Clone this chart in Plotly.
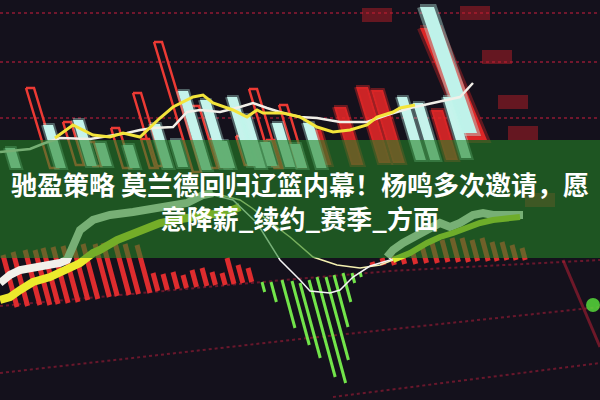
import plotly.graph_objects as go

# ---------------- data ----------------
# (vertical axis is reversed: level 0 is the top edge of the frame)

# upper panel candles: x at the top end, top level, bottom level
red_x   = [30, 67, 115, 137, 158, 195, 253, 283, 90, 145, 215, 240, 270]
red_top = [88, 122, 128, 93, 42, 106, 89, 105, 142, 139, 138, 136, 140]
red_bot = [168, 165, 168, 166, 172, 168, 166, 167, 166, 168, 167, 165, 168]

cyan_x   = [48, 78, 155, 183, 205, 232, 245, 277, 308, 402, 418, 448, 10, 100, 128, 175, 222, 265, 295]
cyan_top = [125, 120, 124, 91, 100, 97, 115, 123, 123, 97, 103, 97, 148, 143, 145, 140, 141, 142, 144]
cyan_bot = [168, 166, 168, 170, 168, 166, 168, 167, 168, 160, 160, 158, 168, 166, 168, 167, 168, 166, 168]

fill_red_x   = [315, 340, 362, 377, 437]
fill_red_top = [130, 107, 87, 90, 110]
fill_red_bot = [165, 165, 163, 163, 160]

# the two tall slanted candles on the right
big_x_top = [430, 427]
big_x_bot = [477, 470]
big_top   = [28, 7]
big_bot   = [140, 133]

# MACD histogram: red bars (top level, zero-line level)
macd_red_x    = [3, 13, 25, 35, 43, 53, 63, 73, 83, 95, 103, 115, 125, 137, 153, 163, 173, 183, 192,
                 202, 212, 222, 227, 238, 248, 372, 382, 392, 402, 412, 422, 432, 442, 452, 462, 472,
                 482, 492, 502, 512, 522]
macd_red_top  = [255, 252, 250, 250, 248, 247, 246, 245, 244, 244, 243, 243, 244, 245, 273, 274, 272,
                 275, 270, 268, 272, 273, 258, 265, 268, 262, 258, 256, 254, 250, 246, 243, 240, 238,
                 238, 240, 238, 242, 242, 245, 248]
macd_red_base = [307, 306, 305, 305, 304, 303, 302, 300, 299, 297, 296, 295, 294, 293, 291, 290, 289,
                 288, 287, 286, 285, 285, 284, 283, 282, 266, 265, 265, 264, 264, 263, 263, 262, 262,
                 262, 261, 261, 261, 260, 260, 260]
# MACD histogram: green bars (zero-line level, bottom level)
macd_green_x    = [262, 271, 282, 292, 300, 309, 317, 326, 334, 343, 352, 360]
macd_green_base = [282, 282, 280, 281, 283, 280, 277, 277, 275, 273, 273, 272]
macd_green_low  = [292, 302, 328, 345, 358, 377, 383, 360, 327, 302, 283, 277]

# moving averages
top_yellow_x = [55, 73, 83, 93, 110, 123, 140, 147, 160, 173, 193, 203, 213, 233, 247, 257, 263, 283,
                300, 317, 333, 350, 367, 377, 393, 400, 415]
top_yellow_y = [138, 125, 130, 135, 137, 133, 137, 130, 118, 107, 97, 95, 103, 110, 117, 110, 113, 113,
                117, 127, 132, 130, 125, 117, 112, 108, 105]
top_white_x = [0, 30, 45, 60, 90, 127, 140, 153, 173, 187, 200, 220, 240, 253, 267, 283, 300, 317, 340,
               367, 387, 410, 433, 460, 473]
top_white_y = [152, 149, 143, 138, 139, 133, 130, 128, 127, 112, 110, 112, 107, 103, 108, 113, 117, 118,
               122, 122, 115, 108, 103, 97, 83]

low_white_x = [0, 10, 20, 40, 60, 67, 72, 80, 93, 110, 133, 160, 187, 203, 213]
low_white_y = [283, 275, 270, 267, 263, 260, 247, 230, 220, 215, 212, 207, 203, 195, 193]
thin_white_x = [213, 233, 257, 280, 300, 310, 330, 340, 353, 370, 390, 410]
thin_white_y = [195, 200, 223, 260, 280, 291, 293, 290, 277, 266, 260, 252]
right_white_x = [387, 393, 403, 413, 427, 440, 450, 460, 473, 483, 493, 507, 523]
right_white_y = [257, 250, 243, 237, 230, 223, 227, 223, 215, 213, 215, 215, 215]

low_yellow_x = [0, 10, 20, 33, 50, 67, 80, 93, 100, 117, 140, 160, 187, 207, 227, 240]
low_yellow_y = [300, 297, 290, 282, 277, 270, 263, 253, 250, 240, 230, 223, 218, 215, 212, 207]
thin_yellow_x = [190, 213, 240, 252, 270, 290, 313, 337, 360, 380, 393]
thin_yellow_y = [195, 193, 200, 208, 222, 237, 257, 265, 268, 265, 260]
right_yellow_x = [393, 410, 427, 440, 453, 467, 480, 493, 507, 520]
right_yellow_y = [260, 253, 243, 237, 233, 228, 223, 220, 218, 217]

# out-of-focus red glow spots on the right
blob_x = [475, 497, 513, 523, 377, 540]
blob_y = [13, 57, 102, 133, 15, 200]

# grid lines
grid_top_levels = [13, 62, 118]
grid_low_x = [0, 300, 600]
grid_low_y = [373, 339, 307]
grid_low2_x = [333, 600]
grid_low2_y = [397, 363]
zero_x = [0, 250, 390, 600]
zero_y = [306, 283, 271, 260]
edge_x = [563, 600]
edge_y = [260, 347]

title_lines = ["驰盈策略 莫兰德回归辽篮内幕！杨鸣多次邀请，愿", "意降薪_续约_赛季_方面"]

# ---------------- drawing ----------------
LEAN = 0.3
MACD_LEAN = 0.27


def slanted_boxes(xs, tops, bots, hw, lean):
    px, py = [], []
    for x, t, b in zip(xs, tops, bots):
        xb = x + (b - t) * lean
        px += [x - hw, x + hw, xb + hw, xb - hw, x - hw, None]
        py += [t, t, b, b, t, None]
    return px, py


def slanted_segments(xs, tops, bots, lean):
    px, py = [], []
    for x, t, b in zip(xs, tops, bots):
        px += [x, x + (b - t) * lean, None]
        py += [t, b, None]
    return px, py


fig = go.Figure()

# grid
for lvl in grid_top_levels:
    fig.add_trace(go.Scatter(x=[0, 600], y=[lvl, lvl], mode="lines",
                             line=dict(color="rgba(190,30,60,0.55)", width=2, dash="dot")))
for gx, gy in [(grid_low_x, grid_low_y), (grid_low2_x, grid_low2_y), (zero_x, zero_y)]:
    fig.add_trace(go.Scatter(x=gx, y=gy, mode="lines",
                             line=dict(color="rgba(190,30,60,0.5)", width=2, dash="dot")))
fig.add_trace(go.Scatter(x=edge_x, y=edge_y, mode="lines",
                         line=dict(color="rgba(170,30,50,0.6)", width=3)))

# blurry spots
for bx, by in zip(blob_x, blob_y):
    fig.add_trace(go.Scatter(x=[bx - 15, bx + 15], y=[by, by], mode="lines",
                             line=dict(color="rgba(200,30,40,0.45)", width=14)))
fig.add_trace(go.Scatter(x=[593], y=[305], mode="markers",
                         marker=dict(color="rgba(90,230,60,0.8)", size=14)))

# filled red candles (blurry)
fx, fy = slanted_boxes(fill_red_x, fill_red_top, fill_red_bot, 6, LEAN)
fig.add_trace(go.Scatter(x=fx, y=fy, mode="lines", fill="toself",
                         fillcolor="rgba(235,40,40,0.85)",
                         line=dict(color="rgba(235,40,40,0.4)", width=4)))

# big slanted candles
bx, by = [], []
for xt, xb, t, b, hw in zip(big_x_top[:1], big_x_bot[:1], big_top[:1], big_bot[:1], [10]):
    bx += [xt - hw, xt + hw, xb + hw, xb - hw, xt - hw, None]
    by += [t, t, b, b, t, None]
fig.add_trace(go.Scatter(x=bx, y=by, mode="lines", fill="toself",
                         fillcolor="rgba(235,40,40,0.9)",
                         line=dict(color="rgba(235,40,40,0.35)", width=6)))

# hollow red candles
rx, ry = slanted_boxes(red_x, red_top, red_bot, 4, LEAN)
fig.add_trace(go.Scatter(x=rx, y=ry, mode="lines",
                         line=dict(color="#ec3a34", width=2.5)))

# cyan candles
cx, cy = slanted_boxes(cyan_x, cyan_top, cyan_bot, 5, LEAN)
fig.add_trace(go.Scatter(x=cx, y=cy, mode="lines", fill="toself",
                         fillcolor="#c6f3ec",
                         line=dict(color="rgba(190,245,235,0.35)", width=4)))
bx, by = [], []
for xt, xb, t, b, hw in zip(big_x_top[1:], big_x_bot[1:], big_top[1:], big_bot[1:], [7]):
    bx += [xt - hw, xt + hw, xb + hw, xb - hw, xt - hw, None]
    by += [t, t, b, b, t, None]
fig.add_trace(go.Scatter(x=bx, y=by, mode="lines", fill="toself",
                         fillcolor="#bff2ea",
                         line=dict(color="rgba(190,245,235,0.4)", width=6)))

# MACD histogram
mx, my = slanted_segments(macd_red_x, macd_red_top, macd_red_base, MACD_LEAN)
fig.add_trace(go.Scatter(x=mx, y=my, mode="lines",
                         line=dict(color="#de2c2e", width=5)))
gx, gy = slanted_segments(macd_green_x, macd_green_base, macd_green_low, MACD_LEAN)
fig.add_trace(go.Scatter(x=gx, y=gy, mode="lines",
                         line=dict(color="#72e44a", width=3)))

# moving averages
fig.add_trace(go.Scatter(x=top_white_x, y=top_white_y, mode="lines",
                         line=dict(color="#f1efe8", width=2.5)))
fig.add_trace(go.Scatter(x=top_yellow_x, y=top_yellow_y, mode="lines",
                         line=dict(color="#f3e43a", width=3)))
fig.add_trace(go.Scatter(x=low_white_x, y=low_white_y, mode="lines",
                         line=dict(color="#f2f0ea", width=8)))
fig.add_trace(go.Scatter(x=low_yellow_x, y=low_yellow_y, mode="lines",
                         line=dict(color="#ecea2c", width=8)))
fig.add_trace(go.Scatter(x=thin_yellow_x, y=thin_yellow_y, mode="lines",
                         line=dict(color="#f4f0b0", width=1.5)))
fig.add_trace(go.Scatter(x=thin_white_x, y=thin_white_y, mode="lines",
                         line=dict(color="#f4f4f4", width=1.5)))
fig.add_trace(go.Scatter(x=right_white_x, y=right_white_y, mode="lines",
                         line=dict(color="#f2f0ea", width=8)))
fig.add_trace(go.Scatter(x=right_yellow_x, y=right_yellow_y, mode="lines",
                         line=dict(color="#dcea30", width=6)))

# banner
fig.add_shape(type="rect", xref="x", yref="y", x0=0, x1=600, y0=140, y1=258,
              fillcolor="rgba(37,131,38,0.6)", line=dict(width=0), layer="above")
fig.add_annotation(x=300, y=200, xref="x", yref="y",
                   text="<b>" + title_lines[0] + "<br>" + title_lines[1] + "</b>",
                   showarrow=False, align="center",
                   font=dict(family="Noto Sans CJK SC", size=26, color="white"))

fig.update_layout(
    width=600, height=400,
    margin=dict(l=0, r=0, t=0, b=0),
    paper_bgcolor="#14111c", plot_bgcolor="#14111c",
    showlegend=False,
    xaxis=dict(range=[0, 600], visible=False, fixedrange=True),
    yaxis=dict(range=[400, 0], visible=False, fixedrange=True),
)

fig.write_html(
    "out.html",
    config={"displayModeBar": False},
    post_script="document.body.style.margin='0';document.body.style.background='#14111c';",
)
